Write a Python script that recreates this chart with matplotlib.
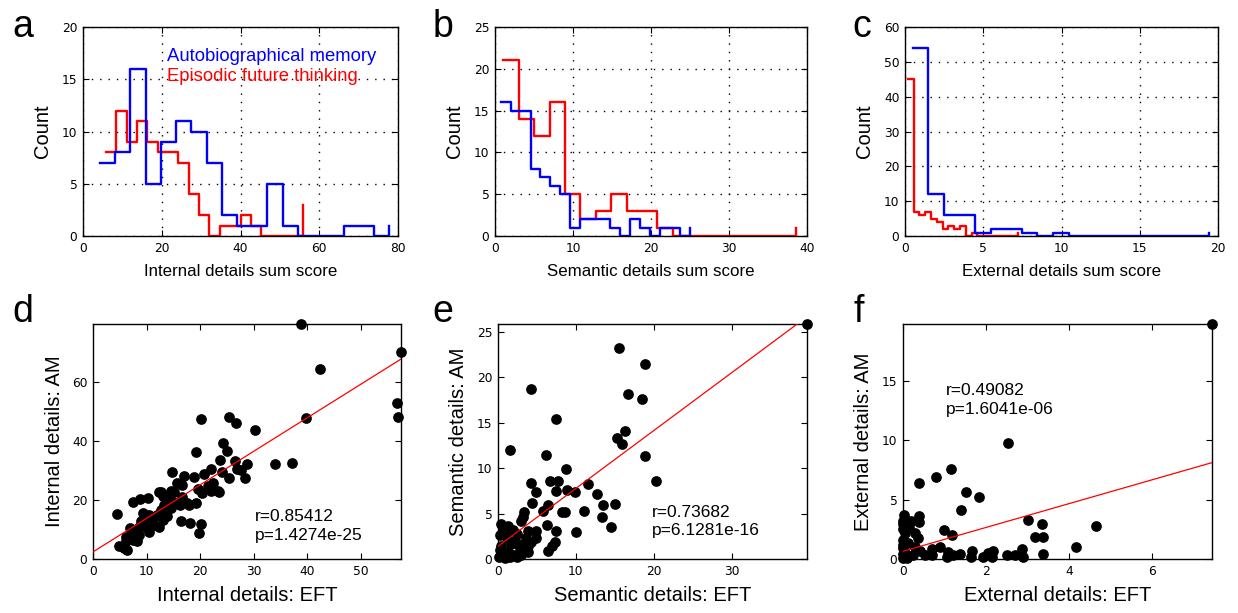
import numpy as np
import matplotlib
matplotlib.use("Agg")
import matplotlib.pyplot as plt

plt.rcParams['font.family'] = ['Liberation Sans', 'DejaVu Sans']

# ---------------- histogram counts (20 bins each) ----------------
# (min, max) of each score distribution, used to place the 20 bin centres
am_internal_range = (2.4, 79.7)
eft_internal_range = (4.5, 57.1)
am_semantic_range = (0.09, 25.6)
eft_semantic_range = (0.08, 39.6)
am_external_range = (0.0, 19.9)
eft_external_range = (0.0, 7.4)

am_internal_counts = [7, 8, 16, 5, 9, 11, 10, 7, 2, 1, 1, 5, 1, 0, 0, 0, 1, 1, 0, 1]
eft_internal_counts = [8, 12, 9, 11, 9, 8, 8, 7, 4, 2, 0, 1, 1, 2, 1, 0, 0, 0, 0, 3]
am_semantic_counts = [16, 15, 15, 8, 7, 6, 5, 1, 2, 2, 2, 1, 0, 2, 1, 0, 1, 1, 0, 1]
eft_semantic_counts = [21, 14, 12, 16, 5, 2, 3, 5, 3, 3, 1, 0, 0, 0, 0, 0, 0, 0, 0, 1]
am_external_counts = [54, 12, 6, 6, 1, 2, 2, 1, 0, 1, 0, 0, 0, 0, 0, 0, 0, 0, 0, 1]
eft_external_counts = [45, 7, 6, 7, 5, 4, 2, 3, 2, 3, 0, 1, 0, 0, 0, 0, 0, 0, 0, 1]

# ---------------- per-participant scores (EFT, AM) ----------------
internal_pairs = np.array([
    (38.9, 79.6), (57.5, 70.2), (42.4, 64.3), (56.7, 53.0), (57.0, 48.2), (39.8, 47.9),
    (20.1, 47.3), (25.3, 48.2), (26.7, 45.9), (30.3, 43.6), (24.3, 39.4), (19.3, 36.4),
    (25.1, 36.5), (23.7, 33.7), (26.5, 33.2), (26.9, 30.4), (28.8, 32.3), (34.0, 32.3),
    (37.1, 32.6), (28.3, 27.3), (25.4, 27.5), (22.0, 30.4), (20.8, 28.7), (18.9, 27.9),
    (17.0, 28.1), (14.8, 29.4), (15.6, 25.8), (16.7, 24.9), (14.6, 23.0), (12.3, 22.8),
    (13.1, 21.3), (16.2, 19.0), (17.6, 19.0), (19.3, 19.0), (7.5, 19.4), (8.7, 20.2),
    (10.2, 20.7), (4.4, 15.4), (16.5, 12.8), (18.2, 12.2), (20.2, 11.9), (19.7, 8.8),
    (22.4, 25.8), (23.4, 23.0), (21.5, 24.7), (20.4, 22.2), (19.6, 23.6), (22.0, 23.0),
    (23.6, 22.8), (24.1, 29.6), (27.6, 30.1), (15.2, 22.8), (12.7, 22.8), (13.3, 21.1),
    (16.6, 21.1), (14.2, 20.0), (14.9, 19.4), (13.3, 18.3), (14.5, 17.2), (12.7, 16.6),
    (12.0, 15.0), (10.5, 15.0), (9.3, 15.5), (9.6, 13.8), (11.0, 13.3), (13.0, 13.3),
    (13.9, 14.4), (11.4, 11.6), (9.9, 11.0), (8.6, 11.0), (8.0, 9.9), (12.4, 11.0),
    (10.5, 9.3), (8.6, 8.2), (7.1, 8.2), (6.1, 7.6), (7.4, 6.5), (8.3, 6.0),
    (6.1, 6.0), (4.9, 4.3), (5.8, 3.7), (6.4, 3.1), (16.2, 18.3), (18.0, 18.3),
    (9.0, 13.0), (7.0, 10.5),
])

semantic_pairs = np.array([
    (39.7, 25.85), (15.6, 23.2), (18.9, 21.4), (4.3, 18.75), (16.7, 18.1), (18.5, 17.6),
    (7.4, 15.4), (16.3, 14.1), (15.3, 13.3), (15.9, 12.7), (18.9, 11.3), (1.5, 12.0),
    (6.2, 11.4), (8.7, 9.9), (20.3, 8.6), (4.2, 8.4), (6.65, 8.6), (7.7, 8.6),
    (4.9, 7.4), (7.5, 7.5), (8.9, 7.6), (9.9, 7.4), (11.6, 8.3), (12.7, 7.2),
    (4.4, 6.2), (6.4, 5.9), (5.8, 5.3), (8.2, 5.2), (8.6, 5.2), (11.1, 5.3),
    (13.5, 5.9), (15.0, 6.0), (3.3, 5.2), (3.2, 4.6), (3.0, 4.2), (13.3, 4.6),
    (14.5, 3.5), (10.0, 3.0), (6.3, 3.7), (7.4, 3.1), (4.85, 3.1), (3.9, 3.1),
    (3.6, 2.3), (7.3, 1.9), (6.9, 1.4), (6.4, 0.9), (0.4, 3.8), (1.3, 3.6),
    (0.6, 3.0), (1.9, 3.2), (1.1, 2.3), (2.4, 2.7), (1.7, 1.7), (0.4, 1.4),
    (2.6, 1.6), (3.2, 1.4), (1.3, 0.8), (0.4, 0.4), (2.1, 0.4), (3.0, 0.4),
    (3.9, 0.8), (0.9, 0.1), (0.2, 1.0), (4.3, 1.9), (4.9, 2.3), (2.8, 1.0),
    (3.9, 1.4), (0.3, 2.6), (1.0, 3.3), (2.2, 2.0), (0.7, 0.6), (1.6, 0.2),
    (2.5, 0.2), (0.1, 0.2),
])

external_pairs = np.array([
    (7.45, 19.75), (2.52, 9.72), (1.16, 7.6), (0.8, 6.9), (0.39, 6.35), (1.52, 5.6),
    (1.84, 5.2), (1.4, 4.1), (3.02, 3.3), (3.35, 2.9), (3.19, 1.85), (3.37, 1.85),
    (4.66, 2.8), (4.18, 1.0), (3.37, 0.45), (2.86, 0.85), (2.89, 0.2), (1.0, 2.4),
    (1.19, 2.05), (0.03, 3.7), (0.01, 3.2), (0.2, 3.2), (0.38, 3.65), (0.38, 3.1),
    (0.0, 2.5), (0.05, 2.2), (0.29, 2.2), (0.35, 1.8), (0.0, 1.6), (0.13, 1.35),
    (0.0, 0.9), (0.29, 1.05), (0.41, 0.7), (0.05, 0.5), (0.25, 0.35), (0.53, 0.35),
    (0.69, 0.35), (0.89, 1.0), (1.09, 0.55), (1.21, 0.35), (1.37, 0.45), (1.05, 0.2),
    (1.67, 0.7), (1.64, 0.2), (1.94, 0.2), (2.05, 0.5), (2.18, 0.7), (2.14, 0.2),
    (2.5, 0.35), (2.7, 0.35), (0.0, 0.1), (0.1, 0.1), (0.69, 0.8), (0.0, 2.9),
    (0.0, 1.2), (0.15, 2.7), (0.0, 0.4),
])

# least-squares lines (intercept, slope) and correlation statistics
internal_fit = (2.4, 1.136)
semantic_fit = (1.4, 0.636)
external_fit = (0.65, 1.0)
internal_stats = ("r=0.85412", "p=1.4274e-25")
semantic_stats = ("r=0.73682", "p=6.1281e-16")
external_stats = ("r=0.49082", "p=1.6041e-06")

AM_COLOR = (0, 0, 1)
EFT_COLOR = (1, 0, 0)
TICK_FONT = 'DejaVu Sans'

fig = plt.figure(figsize=(12.38, 6.13), dpi=100)
W, H = 1238, 613


def axes_px(x0, x1, y0, y1):
    return fig.add_axes([x0 / W, 1 - y1 / H, (x1 - x0) / W, (y1 - y0) / H])


def style_axes(ax, fs=8.8):
    ax.tick_params(direction='in', top=True, right=True, length=4.5, width=0.8,
                   labelsize=fs, pad=4)
    for lab in ax.get_xticklabels() + ax.get_yticklabels():
        lab.set_fontfamily(TICK_FONT)
    for s in ax.spines.values():
        s.set_linewidth(1.0)


def bin_centres(rng, nbins=20):
    edges = np.linspace(rng[0], rng[1], nbins + 1)
    return (edges[:-1] + edges[1:]) / 2


def hist_panel(ax, am_rng, am_counts, eft_rng, eft_counts, xlim, ylim, xticks, yticks, xlabel):
    ax.step(bin_centres(eft_rng), eft_counts, where='post', color=EFT_COLOR, lw=1.7)
    ax.step(bin_centres(am_rng), am_counts, where='post', color=AM_COLOR, lw=1.7)
    ax.set_xlim(*xlim)
    ax.set_ylim(*ylim)
    ax.set_xticks(xticks)
    ax.set_yticks(yticks)
    ax.grid(True, color='black', linestyle=(0, (1, 5)), linewidth=1.0)
    ax.set_axisbelow(True)
    style_axes(ax)
    ax.set_xlabel(xlabel, fontsize=12.2, labelpad=7)
    ax.set_ylabel('Count', fontsize=14.5, labelpad=7)


def scatter_panel(ax, pairs, fit, stats, xticks, yticks, xlabel, ylabel, txt_pos):
    x, y = pairs[:, 0], pairs[:, 1]
    xmax, ymax = x.max(), y.max()
    ax.plot(x, y, 'o', color='black', ms=6.7, mec='black', clip_on=False, zorder=3)
    xl = np.array([0, xmax])
    ax.plot(xl, fit[0] + fit[1] * xl, color=EFT_COLOR, lw=0.9, zorder=4)
    ax.set_xlim(0, xmax)
    ax.set_ylim(0, ymax)
    ax.set_xticks(xticks)
    ax.set_yticks(yticks)
    style_axes(ax)
    ax.set_xlabel(xlabel, fontsize=14.5, labelpad=6)
    ax.set_ylabel(ylabel, fontsize=14.5, labelpad=6)
    tx, ty1, ty2 = txt_pos
    ax.text(tx, ty1, stats[0], transform=ax.transAxes, fontsize=12.5, va='baseline')
    ax.text(tx, ty2, stats[1], transform=ax.transAxes, fontsize=12.5, va='baseline')


ax_a = axes_px(83, 398, 27, 236)
hist_panel(ax_a, am_internal_range, am_internal_counts, eft_internal_range, eft_internal_counts,
           (0, 80), (0, 20), [0, 20, 40, 60, 80], [0, 5, 10, 15, 20], 'Internal details sum score')
ax_a.text(0.267, 0.838, 'Autobiographical memory', color=AM_COLOR, fontsize=13.3,
          transform=ax_a.transAxes, va='baseline')
ax_a.text(0.267, 0.743, 'Episodic future thinking', color=EFT_COLOR, fontsize=13.3,
          transform=ax_a.transAxes, va='baseline')

ax_b = axes_px(495, 807, 27, 236)
hist_panel(ax_b, am_semantic_range, am_semantic_counts, eft_semantic_range, eft_semantic_counts,
           (0, 40), (0, 25), [0, 10, 20, 30, 40], [0, 5, 10, 15, 20, 25], 'Semantic details sum score')

ax_c = axes_px(905, 1218, 27, 236)
hist_panel(ax_c, am_external_range, am_external_counts, eft_external_range, eft_external_counts,
           (0, 20), (0, 60), [0, 5, 10, 15, 20], [0, 10, 20, 30, 40, 50, 60], 'External details sum score')

ax_d = axes_px(93, 401, 324, 559)
scatter_panel(ax_d, internal_pairs, internal_fit, internal_stats, [0, 10, 20, 30, 40, 50],
              [0, 20, 40, 60], 'Internal details: EFT', 'Internal details: AM', (0.526, 0.162, 0.081))

ax_e = axes_px(498, 807, 324, 559)
scatter_panel(ax_e, semantic_pairs, semantic_fit, semantic_stats, [0, 10, 20, 30],
              [0, 5, 10, 15, 20, 25], 'Semantic details: EFT', 'Semantic details: AM', (0.498, 0.179, 0.102))

ax_f = axes_px(903, 1212, 324, 559)
scatter_panel(ax_f, external_pairs, external_fit, external_stats, [0, 2, 4, 6],
              [0, 5, 10, 15], 'External details: EFT', 'External details: AM', (0.139, 0.698, 0.617))

# panel letters
for letter, px, py in [('a', 12, 37), ('b', 433, 37), ('c', 852, 37),
                       ('d', 12, 322), ('e', 432, 322), ('f', 853, 322)]:
    fig.text(px / W, 1 - py / H, letter, fontsize=27, va='baseline', ha='left')

fig.savefig('out.png', dpi=100)
